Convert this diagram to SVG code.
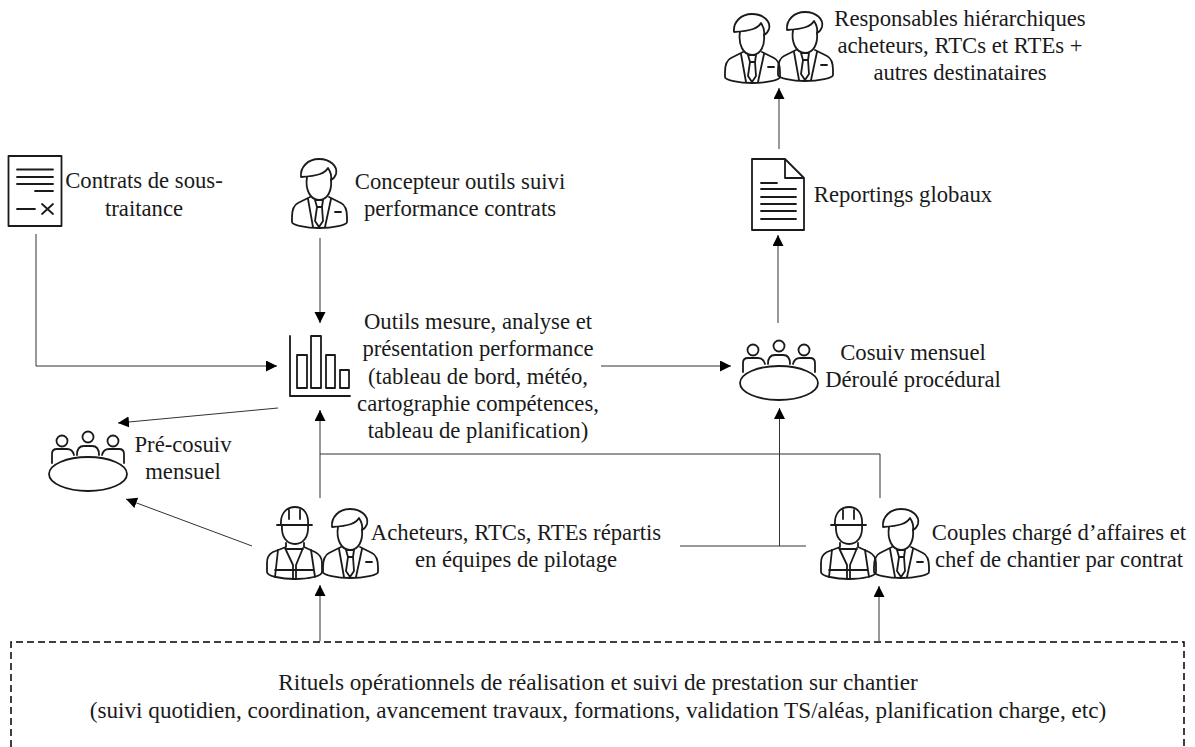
<svg xmlns="http://www.w3.org/2000/svg" width="1195" height="747" viewBox="0 0 1195 747">
<style>
text{font-family:"Liberation Serif","Times New Roman",serif;font-size:22.700px;fill:#1a1a1a;text-anchor:middle}
.big text{font-size:23.200px}
.i{fill:none;stroke:#1a1a1a;stroke-width:1.800;stroke-linejoin:round;stroke-linecap:round}
.c{fill:none;stroke:#333;stroke-width:1}
.a{marker-end:url(#arrow)}
</style>
<defs>
<marker id="arrow" markerUnits="userSpaceOnUse" markerWidth="12" markerHeight="12" refX="11" refY="5.500" orient="auto"><path d="M0,0L11,5.500L0,11Z" fill="#000"/></marker>
<g id="manager" class="i">
<path d="M15,18C13,30 18,41 27,41C36,41 40,31 39,21"/>
<path d="M9,18C8,8 16,0 27,0C38,0 46,7 44,15C43,18 41,20 39,21C40,16 38,12 36,9C33,14 27,17 9,18Z"/>
<path d="M18,38L6,44C2,46 0,50 0,58L0,63C0,66 14,69 27,69C41,69 55,66 55,63L55,58C55,50 53,46 49,44L37,38"/>
<path d="M16,40L21,68M39,40L33,68M23,41H31L30,48H25ZM25,48L23,62L27,68L31,62L30,48M43,53H49"/>
</g>
<g id="worker" class="i">
<path d="M10,18H45M14,18C13,6 20,0 28,0C36,0 42,6 41,18M22,3V12M33,3V12"/>
<path d="M15,18C14,30 20,37 28,37C36,37 42,30 41,18"/>
<path d="M19,36V40L6,45C2,47 0,50 0,56L0,65C0,69 14,72 28,72C42,72 55,69 55,65L55,56C55,50 52,47 48,45L37,40V36"/>
<path d="M11,43L8,70M44,43L48,70M18,41L26,58V72M36,41L29,58V72M19,42H36M8,63H47"/>
</g>
<g id="meeting" class="i">
<ellipse cx="88" cy="474" rx="39" ry="17"/>
<circle cx="62" cy="441" r="5.500"/><circle cx="88" cy="437" r="5.500"/><circle cx="113" cy="441" r="5.500"/>
<path d="M52,463V454C52,451 54,449 57,449H67C70,449 73,451 74,455"/>
<path d="M77,455C77,449 80,446 84,446H92C96,446 99,449 99,455"/>
<path d="M102,455C103,451 106,449 109,449H119C122,449 124,451 124,454V463"/>
</g>
</defs>

<g id="connectors">
<path class="c a" d="M36,234V366H277"/>
<path class="c a" d="M320,238V323"/>
<path class="c a" d="M601,366H731"/>
<path class="c a" d="M278,408L118,423"/>
<path class="c a" d="M252,546L126,499"/>
<path class="c a" d="M320,498V410"/>
<path class="c" d="M320,454H880V498"/>
<path class="c" d="M680,546H806"/>
<path class="c a" d="M779.500,546V408"/>
<path class="c a" d="M778,323V235"/>
<path class="c a" d="M779,149V88"/>
<path class="c a" d="M320,641V585"/>
<path class="c a" d="M879,641V586"/>
</g>

<g id="contrats">
<rect class="i" x="8.500" y="156" width="53" height="70"/>
<path class="i" d="M17,169.500H53M17,177H53M17,184H53M35,191H53M17,209H35M42,204L53,214M53,204L42,214"/>
<text x="144" y="188">Contrats de sous-</text>
<text x="144" y="216">traitance</text>
</g>
<g id="concepteur">
<use href="#manager" x="292" y="159"/>
<text x="460" y="189">Concepteur outils suivi</text>
<text x="460" y="216">performance contrats</text>
</g>
<g id="outils">
<path class="i" d="M290,336V396H350M297,355H307V388H297ZM311,336H321V388H311ZM326,355H335V388H326ZM340,370H349V388H340Z"/>
<text x="478" y="329">Outils mesure, analyse et</text>
<text x="478" y="356">présentation performance</text>
<text x="478" y="384">(tableau de bord, météo,</text>
<text x="478" y="411">cartographie compétences,</text>
<text x="478" y="438">tableau de planification)</text>
</g>
<g id="pre-cosuiv">
<use href="#meeting"/>
<text x="183" y="452">Pré-cosuiv</text>
<text x="183" y="479">mensuel</text>
</g>
<g id="cosuiv">
<use href="#meeting" x="691" y="-91"/>
<text x="913" y="360">Cosuiv mensuel</text>
<text x="913" y="387">Déroulé procédural</text>
</g>
<g id="responsables">
<use href="#manager" x="725" y="14"/>
<use href="#manager" x="778" y="12"/>
<text x="960" y="26">Responsables hiérarchiques</text>
<text x="960" y="53">acheteurs, RTCs et RTEs +</text>
<text x="960" y="80">autres destinataires</text>
</g>
<g id="reportings">
<path class="i" d="M752,159H785L804,178V230H752ZM785,159V178H804"/>
<path class="i" d="M761,183H777M761,189H796M761,197H796M761,204H796M761,211H796M761,219H796"/>
<text x="903" y="202">Reportings globaux</text>
</g>
<g id="acheteurs">
<use href="#worker" x="267" y="507"/>
<use href="#manager" x="323" y="509"/>
<text x="516" y="540">Acheteurs, RTCs, RTEs répartis</text>
<text x="516" y="567">en équipes de pilotage</text>
</g>
<g id="couples">
<use href="#worker" x="821" y="507"/>
<use href="#manager" x="874" y="509"/>
<text x="1059" y="540">Couples chargé d’affaires et</text>
<text x="1059" y="567">chef de chantier par contrat</text>
</g>
<g id="rituels" class="big">
<path d="M11,747V642H1184V747" fill="none" stroke="#000" stroke-width="1.500" stroke-dasharray="7 4"/>
<text x="598" y="690">Rituels opérationnels de réalisation et suivi de prestation sur chantier</text>
<text x="598" y="718">(suivi quotidien, coordination, avancement travaux, formations, validation TS/aléas, planification charge, etc)</text>
</g>
</svg>
